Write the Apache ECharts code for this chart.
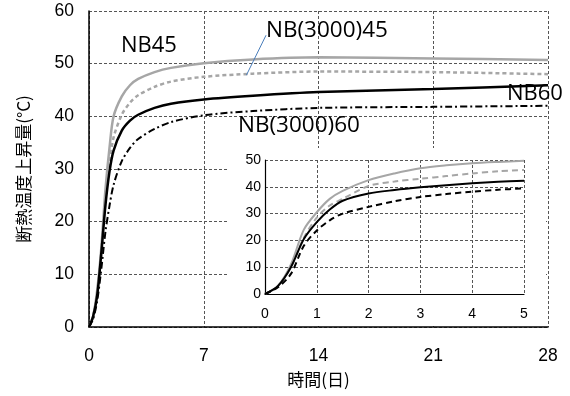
<!DOCTYPE html>
<html>
<head>
<meta charset="utf-8">
<script src="https://cdn.jsdelivr.net/npm/echarts@6/dist/echarts.min.js"></script>
<style>
  html, body { margin: 0; padding: 0; background: #fff; }
  #chart { width: 570px; height: 396px; }
</style>
</head>
<body>
<div id="chart"></div>
<script>
// Adiabatic temperature rise over 28 days (main panel)
const mainDays = [0, 0.25, 0.5, 0.75, 1, 1.25, 1.5, 2, 2.5, 3, 4, 5, 7, 10, 14, 21, 28];
const nb45 =      [0, 2, 7, 15, 26, 34, 40, 43.8, 45.9, 47.1, 48.4, 49.2, 50.1, 50.8, 51.2, 51.0, 50.7];
const nb3000_45 = [0, 2, 6.5, 14, 24, 31, 36, 40.3, 42.6, 44.0, 45.6, 46.6, 47.5, 48.1, 48.5, 48.4, 48.0];
const nb60 =      [0, 2, 6, 14, 23, 29.5, 33.5, 37.3, 39.2, 40.3, 41.6, 42.4, 43.2, 43.9, 44.6, 45.2, 45.9];
const nb3000_60 = [0, 1.5, 5, 11, 18, 23, 27, 31.5, 34, 35.7, 37.6, 38.9, 40.2, 41.0, 41.6, 41.8, 42.0];

// First five days (inset panel)
const insetDays = [0, 0.25, 0.5, 0.75, 1, 1.25, 1.5, 2, 2.5, 3, 3.5, 4, 4.5, 5];
const inGray =       [0, 3, 11, 24, 30.5, 35.5, 38.5, 42.5, 45, 46.9, 48, 48.8, 49.3, 49.7];
const inGrayDash =   [0, 2.8, 10, 21, 28.5, 33, 35.5, 40.3, 42, 43, 44, 45, 45.8, 46.3];
const inBlack =      [0, 3, 10, 20.5, 26.8, 31.5, 34.8, 37.5, 38.8, 39.8, 40.6, 41.3, 41.9, 42.3];
const inBlackDash =  [0, 2.5, 7.5, 18, 23.7, 27.5, 30, 32.5, 34.6, 36.2, 37.3, 38.2, 38.9, 39.4];

const mainXTicks = [0, 7, 14, 21, 28];

function pairs(xs, ys) { return xs.map((x, i) => [x, ys[i]]); }

const GRAY = '#a6a6a6';
const GRID_LINE = { show: true, lineStyle: { color: '#555', type: [3, 2], width: 1 } };
const FONT = 'Liberation Sans, Arial, sans-serif';
const LABEL_FONT = 'Open Sans, Noto Sans, sans-serif';
const CJK = 'Noto Sans CJK JP, sans-serif';

const chart = echarts.init(document.getElementById('chart'), null, { renderer: 'canvas' });

function lineSeries(name, data, color, type, width, xi, z) {
  return {
    name, type: 'line', data, xAxisIndex: xi, yAxisIndex: xi,
    showSymbol: false, smooth: 0.3, z: z,
    lineStyle: { color, type, width },
    emphasis: { disabled: true }
  };
}

const option = {
  animation: false,
  backgroundColor: '#fff',
  grid: [
    { left: 89, right: 22, top: 11, bottom: 69 },
    { left: 265, width: 259, top: 160, height: 134 }
  ],
  xAxis: [
    {
      type: 'value', gridIndex: 0, min: 0, max: 28, interval: 7, z: 0,
      name: '時間(日)', nameLocation: 'middle', nameGap: 44,
      nameTextStyle: { fontSize: 17, color: '#000', fontFamily: CJK },
      axisLine: { lineStyle: { color: '#000', width: 1.5 } },
      axisTick: { show: false },
      axisLabel: { fontSize: 17.5, color: '#000', margin: 20, fontFamily: FONT,
        formatter: v => mainXTicks.includes(v) ? String(v) : '' },
      splitLine: GRID_LINE
    },
    {
      type: 'value', gridIndex: 1, min: 0, max: 5, interval: 1, z: 2,
      axisLine: { lineStyle: { color: '#000', width: 1.2 } },
      axisTick: { show: false },
      axisLabel: { fontSize: 14, color: '#000', margin: 13, fontFamily: FONT },
      splitLine: GRID_LINE
    }
  ],
  yAxis: [
    {
      type: 'value', gridIndex: 0, min: 0, max: 60, interval: 10, z: 0,
      name: '断熱温度上昇量(°C)', nameLocation: 'middle', nameGap: 57, nameRotate: 90,
      nameTextStyle: { fontSize: 17, color: '#000', fontFamily: CJK },
      axisLine: { show: true, lineStyle: { color: '#000', width: 1.5 } },
      axisTick: { show: false },
      axisLabel: { fontSize: 17.5, color: '#000', margin: 15, fontFamily: FONT },
      splitLine: GRID_LINE
    },
    {
      type: 'value', gridIndex: 1, min: 0, max: 50, interval: 10, z: 2,
      axisLine: { show: true, lineStyle: { color: '#000', width: 1.2 } },
      axisTick: { show: false },
      axisLabel: { fontSize: 14, color: '#000', margin: 4, fontFamily: FONT },
      splitLine: GRID_LINE
    }
  ],
  graphic: [
    // white panel behind the inset
    { type: 'rect', left: 227, top: 148, shape: { width: 319, height: 178 },
      style: { fill: '#fff' }, z: 1, silent: true },
    { type: 'text', left: 121, top: 35, z: 10,
      style: { text: 'NB45', fontSize: 22, fill: '#000', fontFamily: LABEL_FONT } },
    { type: 'text', left: 266, top: 19, z: 10,
      style: { text: 'NB(3000)45', fontSize: 22.5, fill: '#000', fontFamily: LABEL_FONT } },
    { type: 'text', left: 507, top: 83, z: 10,
      style: { text: 'NB60', fontSize: 22, fill: '#000', fontFamily: LABEL_FONT } },
    { type: 'text', left: 238, top: 114, z: 10,
      style: { text: 'NB(3000)60', fontSize: 22.5, fill: '#000', fontFamily: LABEL_FONT } }
  ],
  series: [
    lineSeries('NB45', pairs(mainDays, nb45), GRAY, 'solid', 2.5, 0, 2),
    lineSeries('NB(3000)45', pairs(mainDays, nb3000_45), GRAY, [4, 3], 2.5, 0, 2),
    lineSeries('NB60', pairs(mainDays, nb60), '#000', 'solid', 2.5, 0, 2),
    Object.assign(lineSeries('NB(3000)60', pairs(mainDays, nb3000_60), '#000', [7, 3, 2, 3], 2, 0, 2), {
      markLine: {
        silent: true, symbol: ['none', 'arrow'], symbolSize: [0, 7], label: { show: false },
        lineStyle: { color: '#4a7ebb', type: 'solid', width: 1 },
        data: [[{ coord: [10.8, 55.4] }, { coord: [9.6, 47.8] }]]
      }
    }),
    lineSeries('inset NB45', pairs(insetDays, inGray), GRAY, 'solid', 2, 1, 3),
    lineSeries('inset NB(3000)45', pairs(insetDays, inGrayDash), GRAY, [6, 4], 2, 1, 3),
    lineSeries('inset NB60', pairs(insetDays, inBlack), '#000', 'solid', 2, 1, 3),
    lineSeries('inset NB(3000)60', pairs(insetDays, inBlackDash), '#000', [6, 4], 2, 1, 3)
  ]
};

chart.setOption(option);
</script>
</body>
</html>
